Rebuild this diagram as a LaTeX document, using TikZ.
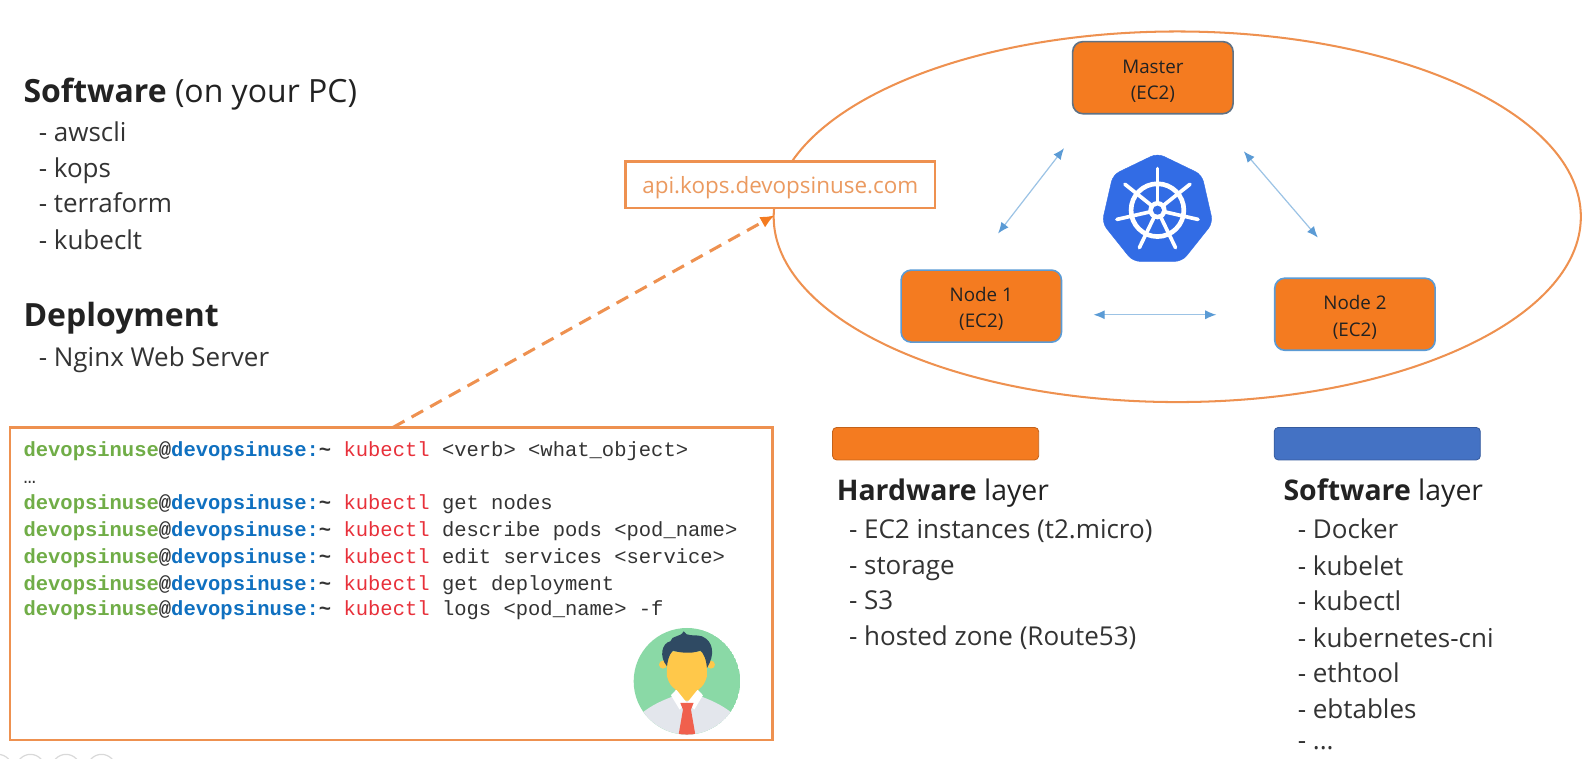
\documentclass[tikz,border=0pt]{standalone}
\usepackage{fontspec}
\setmainfont{Open Sans}
\newfontfamily\termfont{Liberation Mono}
\usetikzlibrary{arrows.meta,shapes.geometric}
\definecolor{korange}{HTML}{F47B20}
\definecolor{lineorange}{HTML}{EE9150}
\definecolor{apitext}{HTML}{EB9A60}
\definecolor{kblue}{HTML}{4472C4}
\definecolor{arrowblue}{HTML}{5B9BD5}
\definecolor{arrowline}{HTML}{9CC3E5}
\definecolor{logoblue}{HTML}{326CE5}
\definecolor{termgreen}{HTML}{70AD47}
\definecolor{termblue}{HTML}{0F70C0}
\definecolor{termred}{HTML}{E8303A}
\definecolor{termdark}{HTML}{333333}
\definecolor{txt}{HTML}{222222}
\definecolor{avgreen}{HTML}{8AD9A6}
\definecolor{avshirt}{HTML}{E3E6EC}
\definecolor{avskin}{HTML}{FFC84A}
\definecolor{avhair}{HTML}{2F4A63}
\definecolor{avtie}{HTML}{F0604D}
\definecolor{masterline}{HTML}{5F7285}
\newcommand{\pr}{{\bfseries\color{termgreen}devopsinuse\color{termdark}@\color{termblue}devopsinuse:\color{termdark}\char`\~} \textcolor{termred}{kubectl}}
\newcommand{\ecstrut}{\rule{0pt}{20pt}}
\tikzset{
  x=1pt,y=-1pt,
  ec2/.style={draw=#1,line width=1.6pt,fill=korange,rounded corners=10pt,minimum width=158pt,minimum height=71pt,inner sep=0pt,align=center,font=\fontsize{18.5}{26}\selectfont,text=txt},
  ec2/.default={arrowblue},
  legendbar/.style={fill=#1,draw=#1!80!black,line width=.8pt,rounded corners=4pt,minimum width=203pt,minimum height=32pt,inner sep=0pt},
  heading/.style={anchor=mid west,inner sep=0pt,yshift=-8pt,font=\fontsize{31.5}{35}\selectfont,text=txt},
  subheading/.style={anchor=mid west,inner sep=0pt,yshift=-6pt,font=\fontsize{28}{32}\selectfont,text=txt},
  item/.style={anchor=mid west,inner sep=0pt,yshift=-7pt,font=\fontsize{25.6}{30}\selectfont,text=termdark},
  term/.style={anchor=mid west,inner sep=0pt,yshift=-4pt,font=\termfont\fontsize{20.2}{24}\selectfont,text=termdark},
  biarrow/.style={{Latex[length=11pt,width=9pt,color=arrowblue]}-{Latex[length=11pt,width=9pt,color=arrowblue]},draw=arrowline,line width=1.2pt},
}
\begin{document}
\begin{tikzpicture}
\useasboundingbox (0,0) rectangle (1568,746.6);
\clip (0,0) rectangle (1568,746.6);
% faint icons at the bottom edge
\foreach \cx in {-2,30,65,100}{\draw[black!15,line width=1.2pt] (\cx,757) circle[radius=14];}
% cluster ellipse
\node (cluster) [draw=lineorange,line width=2pt,ellipse,minimum width=795pt,minimum height=365pt,inner sep=0pt] at (1159.5,213.5) {};
% API label
\node (api) [draw=lineorange,line width=2.2pt,fill=white,minimum width=305pt,minimum height=46pt,inner sep=0pt,font=\fontsize{22.1}{26}\selectfont,text=apitext] at (768.5,182) {\rule{0pt}{22pt}api.kops.devopsinuse.com};
% EC2 boxes
\node (master) [ec2={masterline}] at (1135.5,76.5) {\ecstrut Master\\(EC2)};
\node (node1) [ec2] at (966.5,301.5) {\ecstrut Node 1\\(EC2)};
\node (node2) [ec2] at (1334.5,309.5) {\ecstrut Node 2\\(EC2)};
% arrows inside the cluster
\coordinate (a1) at (983,230); \coordinate (a2) at (1048,146);
\coordinate (b1) at (1225,149); \coordinate (b2) at (1298,234);
\coordinate (c1) at (1077,310); \coordinate (c2) at (1198,310);
\draw[biarrow] (a1) -- (a2);
\draw[biarrow] (b1) -- (b2);
\draw[biarrow] (c1) -- (c2);
% Kubernetes logo
\begin{scope}[shift={(1140,207)}]
  \fill[logoblue,rounded corners=7pt,draw=logoblue]
    (-90:56) -- (-38.57:56) -- (12.86:56) -- (64.29:56) -- (115.71:56) -- (167.14:56) -- (218.57:56) -- cycle;
  \draw[white,line width=4.6pt] (0,0) circle[radius=26];
  \foreach \k in {0,...,6}{
    \draw[white,line width=3.6pt,line cap=round] (0,0) -- ({-90+\k*51.43}:41);
  }
  \fill[white] (0,0) circle[radius=9];
  \fill[logoblue] (0,0) circle[radius=4.5];
\end{scope}
% left texts
\node (t1) [heading] at (23,90) {\textbf{Software} (on your PC)};
\node (t2) [item] at (38,130) {- awscli};
\node (t3) [item] at (38,165) {- kops};
\node (t4) [item] at (38,200) {- terraform};
\node (t5) [item] at (38,236) {- kubeclt};
\node (t6) [heading] at (23,311) {\textbf{Deployment}};
\node (t7) [item] at (38,351) {- Nginx Web Server};
% terminal
\node (terminal) [draw=lineorange,line width=2.4pt,fill=white,minimum width=751pt,minimum height=308pt,inner sep=0pt] at (385.5,575) {};
\coordinate (dstart) at (387,421);
\coordinate (dend) at (763,212);
\draw[-{Latex[length=14pt,width=12pt,color=korange]},draw=lineorange,line width=3pt,dash pattern=on 13pt off 8pt] (dstart) -- (dend);
\node (l1) [term] at (23,443) {\pr{} <verb> <what\_object>};
\node (l2) [term] at (23,470) {…};
\node (l3) [term] at (23,495) {\pr{} get nodes};
\node (l4) [term] at (23,522) {\pr{} describe pods <pod\_name>};
\node (l5) [term] at (23,548) {\pr{} edit services <service>};
\node (l6) [term] at (23,575) {\pr{} get deployment};
\node (l7) [term] at (23,600) {\pr{} logs <pod\_name> -f};
% avatar
\begin{scope}[shift={(676.6,671)},x=.328pt,y=-.328pt]
  \begin{scope}
    \clip (0,0) circle[radius=160];
    \fill[avgreen] (0,0) circle[radius=160];
    \fill[avshirt] (-135,95) .. controls (-90,60) and (-50,50) .. (-30,40) -- (30,40) .. controls (50,50) and (90,60) .. (135,95) -- (135,170) -- (-135,170) -- cycle;
    \fill[avskin] (-35,10) -- (35,10) -- (35,48) .. controls (15,62) and (-15,62) .. (-35,48) -- cycle;
    \fill[white] (-48,42) -- (-32,25) -- (0,65) -- (32,25) -- (48,42) -- (22,85) -- (0,65) -- (-22,85) -- cycle;
    \fill[avtie] (-20,65) -- (20,65) -- (12,85) -- (25,160) -- (-25,160) -- (-12,85) -- cycle;
    \fill[avskin] (-72,-50) circle[radius=12];
    \fill[avskin] (72,-50) circle[radius=12];
    \fill[avskin] (-60,-90) -- (60,-90) -- (60,-15) .. controls (50,25) and (25,32) .. (0,32) .. controls (-25,32) and (-50,25) .. (-60,-15) -- cycle;
    \fill[avhair] (-60,-45) .. controls (-85,-75) and (-75,-115) .. (-50,-120) .. controls (-45,-140) and (-20,-130) .. (-10,-150) .. controls (0,-132) and (20,-142) .. (45,-135) .. controls (80,-120) and (85,-80) .. (60,-40) .. controls (58,-65) and (50,-85) .. (40,-92) .. controls (10,-80) and (-30,-88) .. (-42,-92) .. controls (-55,-80) and (-58,-60) .. (-60,-45) -- cycle;
  \end{scope}
\end{scope}
% legend
\node (hwbar) [legendbar=korange] at (921.5,437) {};
\node (swbar) [legendbar=kblue] at (1356.5,437) {};
\node (h1) [subheading] at (824,484) {\textbf{Hardware} layer};
\node (h2) [item] at (836,521) {- EC2 instances (t2.micro)};
\node (h3) [item] at (836,556) {- storage};
\node (h4) [item] at (836,591) {- S3};
\node (h5) [item] at (836,626) {- hosted zone (Route53)};
\node (s1) [subheading] at (1264,484) {\textbf{Software} layer};
\node (s2) [item] at (1278,521) {- Docker};
\node (s3) [item] at (1278,557) {- kubelet};
\node (s4) [item] at (1278,592) {- kubectl};
\node (s5) [item] at (1278,628) {- kubernetes-cni};
\node (s6) [item] at (1278,663) {- ethtool};
\node (s7) [item] at (1278,698) {- ebtables};
\node (s8) [item] at (1278,729) {- ...};
\end{tikzpicture}
\end{document}
